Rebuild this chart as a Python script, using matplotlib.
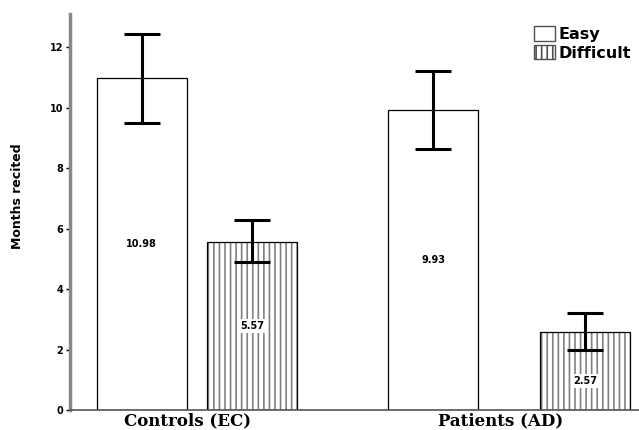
import numpy as np
import matplotlib.pyplot as plt
from matplotlib.patches import Patch

groups = ["Controls (EC)", "Patients (AD)"]
conditions = ["Easy", "Difficult"]
means = [10.98, 5.57, 9.93, 2.57]
err_low = [9.50, 4.89, 8.62, 1.97]
err_high = [12.45, 6.27, 11.23, 3.20]
labels = ["10.98", "5.57", "9.93", "2.57"]

# layout (axis pixel units)
xpos = [71.5, 182.5, 363.5, 515]
width = 90
hatches = ["", "|||"]

plt.rcParams["hatch.linewidth"] = 1.2

fig = plt.figure(figsize=(6.39, 4.30), dpi=100)
ax = fig.add_axes([70 / 639, 20 / 430, 569 / 639, 396 / 430])

for i, m in enumerate(means):
    # gray hatch layer, then black outline on top
    ax.bar(xpos[i], m, width=width, color="white", edgecolor="#808080",
           linewidth=0, hatch=hatches[i % 2], zorder=2)
    ax.bar(xpos[i], m, width=width, fill=False, edgecolor="black",
           linewidth=0.9, zorder=2.5)
    lo = m - err_low[i]
    hi = err_high[i] - m
    ax.errorbar(xpos[i], m, yerr=[[lo], [hi]], fmt="none", ecolor="black",
                elinewidth=2.2, capsize=13, capthick=2.2, zorder=3)
    ax.text(xpos[i], m / 2 if i != 3 else 0.95, labels[i], ha="center", va="center",
            fontsize=7, fontweight="bold", zorder=4,
            bbox=dict(facecolor="white", edgecolor="none", pad=1.5))

ax.set_xlim(0, 569)
ax.set_ylim(0, 13.1)
ax.set_yticks(np.arange(0, 13, 2))
ax.set_yticklabels([str(v) for v in range(0, 13, 2)], fontsize=7, fontweight="bold")
ax.set_xticks([(xpos[0] + xpos[1]) / 2 - 9, (xpos[2] + xpos[3]) / 2 - 9])
ax.set_xticklabels(groups, fontsize=12, fontweight="bold", family="DejaVu Serif")
ax.tick_params(axis="x", length=0, pad=2)
ax.tick_params(axis="y", length=3, width=1, direction="out", pad=2)
ax.set_ylabel("Months recited", fontsize=9, fontweight="bold",
              family=["Liberation Sans Narrow", "DejaVu Sans"])
ax.yaxis.set_label_coords(-0.08, 0.54)

for s in ["top", "right"]:
    ax.spines[s].set_visible(False)
ax.spines["left"].set_color("#888888")
ax.spines["left"].set_linewidth(2.5)
ax.spines["bottom"].set_color("#555555")
ax.spines["bottom"].set_linewidth(1.2)

handles = [Patch(facecolor="white", edgecolor="#505050", hatch=h, label=c)
           for h, c in zip(hatches, conditions)]
leg = ax.legend(handles=handles, loc="upper left", bbox_to_anchor=(458 / 569, 0.985),
                frameon=False, fontsize=11.5, handlelength=1.3, handleheight=1.0,
                handletextpad=0.2, labelspacing=0.2, borderaxespad=0)
for t in leg.get_texts():
    t.set_fontweight("bold")

fig.savefig("out.png", dpi=100)
